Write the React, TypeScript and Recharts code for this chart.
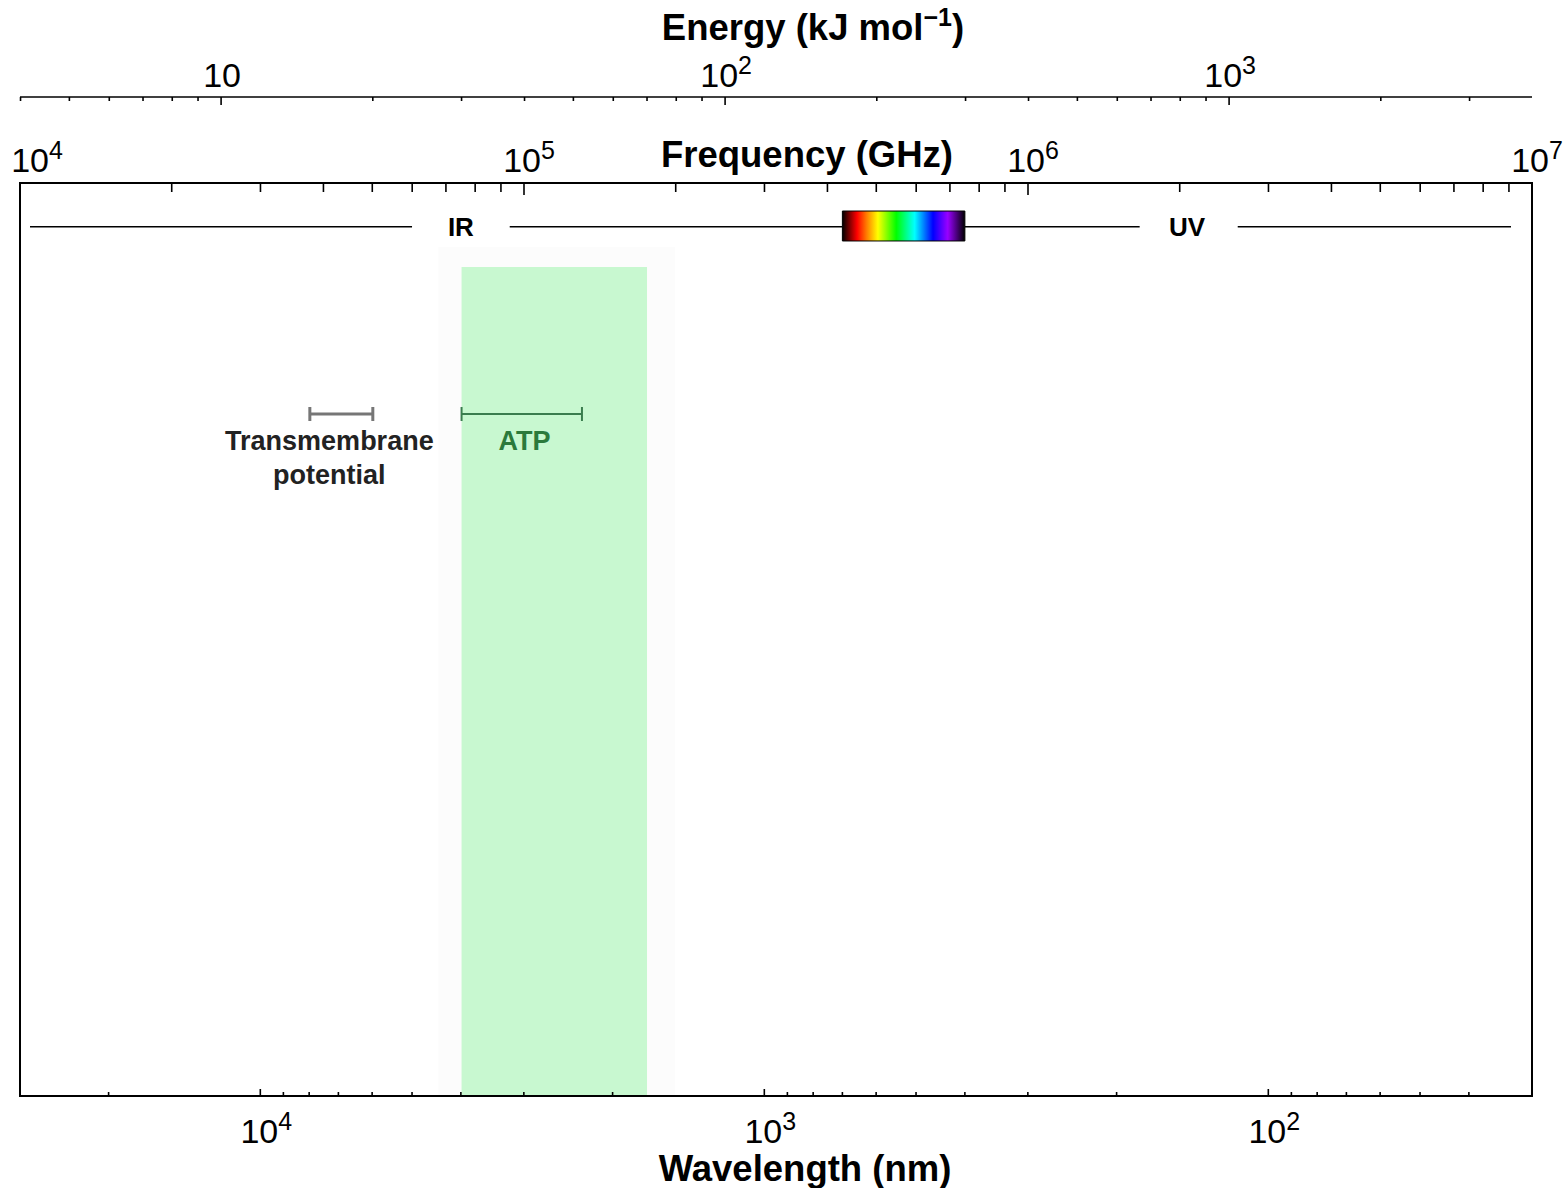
import { ComposedChart, XAxis, YAxis, Scatter, ErrorBar, ReferenceArea, ReferenceLine } from "recharts";

const FONT = "'Liberation Sans', Arial, Helvetica, sans-serif";

// the plot spans 10^4 .. 10^7 GHz; same span in kJ/mol and nm
const freqDomain = [1e4, 1e7];
const energyDomain = [3.9903, 3990.3];
const wavelengthDomain = [29.979, 29979.2];

const freqTicks = [
    1e4, 2e4, 3e4, 4e4, 5e4, 6e4, 7e4, 8e4, 9e4,
    1e5, 2e5, 3e5, 4e5, 5e5, 6e5, 7e5, 8e5, 9e5,
    1e6, 2e6, 3e6, 4e6, 5e6, 6e6, 7e6, 8e6, 9e6,
    1e7,
];
const freqMajor = [1e4, 1e5, 1e6, 1e7];

const energyTicks = [
    4, 5, 6, 7, 8, 9,
    10, 20, 30, 40, 50, 60, 70, 80, 90,
    100, 200, 300, 400, 500, 600, 700, 800, 900,
    1000, 2000, 3000,
];
const energyMajor = [10, 100, 1000];

const wavelengthTicks = [
    20000,
    10000, 9000, 8000, 7000, 6000, 5000, 4000, 3000, 2000,
    1000, 900, 800, 700, 600, 500, 400, 300, 200,
    100, 90, 80, 70, 60, 50, 40,
];
const wavelengthMajor = [1e4, 1e3, 1e2];

// spectrum bar (nm)
const spectrumSegments = [
    [28640, 5000],
    [3200, 700],
    [400, 180],
    [115, 33],
];
const visibleRange = [700, 400];
const regionLabels = [
    { wl: 4000, y: 0.952, text: "IR" },
    { wl: 145, y: 0.952, text: "UV" },
];

// energies (kJ/mol)
const atpBand = [30, 70];
const energyRanges = [
    { name: "Transmembrane potential", lo: 15, hi: 20 },
    { name: "ATP", lo: 30, hi: 52 },
];
const rangeLabels = [
    { e: 16.4, y: 0.7075, lines: ["Transmembrane", "potential"] },
    { e: 40, y: 0.7075, lines: ["ATP"] },
];

const rangeColors: Record<string, string> = {
    "Transmembrane potential": "#767676",
    ATP: "#3a7d4e",
};
const labelColors: Record<string, string> = {
    Transmembrane: "#222222",
    ATP: "#2b7a3b",
};

type TickCfg = { majors: number[]; dir: number; minor: number; major: number; labelY: number; dx: number; firstDx?: number };

const AxisTick = ({ x, y, payload, cfg }: any) => {
    const v = payload.value;
    const isMajor = cfg.majors.some((m: number) => Math.abs(m - v) / m < 1e-6);
    const len = isMajor ? cfg.major : cfg.minor;
    const exp = Math.round(Math.log10(v));
    const dx = cfg.firstDx !== undefined && v === cfg.majors[0] ? cfg.firstDx : cfg.dx;
    return (
        <g>
            <line x1={x} y1={y} x2={x} y2={y + cfg.dir * len} stroke="#000" strokeWidth={1.6} />
            {isMajor && (
                <text x={x + dx} y={y + cfg.labelY} textAnchor="middle" fontFamily={FONT} fontSize={34} fill="#000">
                    <tspan>10</tspan>
                    {exp !== 1 && <tspan fontSize={25} dy={-13}>{exp}</tspan>}
                </text>
            )}
        </g>
    );
};

const energyCfg: TickCfg = { majors: energyMajor, dir: 1, minor: 4, major: 8, labelY: -10, dx: 1 };
const freqCfg: TickCfg = { majors: freqMajor, dir: 1, minor: 9, major: 12, labelY: -11, dx: 5, firstDx: 17 };
const wlCfg: TickCfg = { majors: wavelengthMajor, dir: -1, minor: 4, major: 7, labelY: 47, dx: 6 };

const title = (content: React.ReactNode, dx: number, dy: number) => (props: any) => {
    const vb = props.viewBox;
    return (
        <text x={vb.x + vb.width / 2 + dx} y={vb.y + dy} textAnchor="middle" fontFamily={FONT} fontWeight="bold" fontSize={36.5} fill="#000">
            {content}
        </text>
    );
};

export default function App() {
    const errData = energyRanges.map(r => ({
        name: r.name,
        e: (r.lo + r.hi) / 2,
        y: 0.747,
        err: [(r.hi - r.lo) / 2, (r.hi - r.lo) / 2],
    }));

    return (
        <div style={{ position: "absolute", left: 0, top: 0, background: "#fff" }}>
            <ComposedChart width={1566} height={1188} margin={{ top: 10, right: 34, bottom: 0, left: 20 }}>
                <defs>
                    <linearGradient id="rainbow" x1="0" y1="0" x2="1" y2="0">
                        <stop offset="0%" stopColor="#000000" />
                        <stop offset="12%" stopColor="#ff0000" />
                        <stop offset="20%" stopColor="#ff8000" />
                        <stop offset="29%" stopColor="#ffff00" />
                        <stop offset="44%" stopColor="#00ff00" />
                        <stop offset="59%" stopColor="#00ffff" />
                        <stop offset="74%" stopColor="#0000ff" />
                        <stop offset="86%" stopColor="#9900ff" />
                        <stop offset="100%" stopColor="#000000" />
                    </linearGradient>
                </defs>

                {/* frequency axis sits against the plot, energy axis above it */}
                <XAxis
                    xAxisId="f"
                    dataKey="f"
                    orientation="top"
                    type="number"
                    scale="log"
                    domain={freqDomain}
                    allowDataOverflow
                    ticks={freqTicks}
                    interval={0}
                    height={86}
                    tickSize={0}
                    tickMargin={0}
                    tickLine={false}
                    axisLine={{ stroke: "#000", strokeWidth: 2 }}
                    tick={(p: any) => <AxisTick {...p} cfg={freqCfg} />}
                    label={{ content: title("Frequency (GHz)", 31, 70) }}
                />
                <XAxis
                    xAxisId="kj"
                    dataKey="e"
                    orientation="top"
                    type="number"
                    scale="log"
                    domain={energyDomain}
                    allowDataOverflow
                    ticks={energyTicks}
                    interval={0}
                    height={87}
                    tickSize={0}
                    tickMargin={0}
                    tickLine={false}
                    axisLine={{ stroke: "#000", strokeWidth: 1.6 }}
                    tick={(p: any) => <AxisTick {...p} cfg={energyCfg} />}
                    label={{
                        content: title(
                            <>
                                Energy (kJ mol<tspan fontSize={25} dy={-14}>−1</tspan>
                                <tspan dy={14}>)</tspan>
                            </>,
                            37,
                            30
                        ),
                    }}
                />
                <XAxis
                    xAxisId="wl"
                    dataKey="wl"
                    orientation="bottom"
                    type="number"
                    scale="log"
                    reversed
                    domain={wavelengthDomain}
                    allowDataOverflow
                    ticks={wavelengthTicks}
                    interval={0}
                    height={92}
                    tickSize={0}
                    tickMargin={0}
                    tickLine={false}
                    axisLine={{ stroke: "#000", strokeWidth: 2 }}
                    tick={(p: any) => <AxisTick {...p} cfg={wlCfg} />}
                    label={{ content: title("Wavelength (nm)", 29, 85) }}
                />
                <YAxis yAxisId="y" dataKey="y" type="number" domain={[0, 1]} allowDataOverflow hide />

                <ReferenceArea xAxisId="kj" yAxisId="y" x1={27} x2={79.5} y1={0} y2={0.93} fill="#fcfcfc" fillOpacity={1} stroke="none" />
                <ReferenceArea xAxisId="kj" yAxisId="y" x1={atpBand[0]} x2={atpBand[1]} y1={0} y2={0.908} fill="#c8f8d0" fillOpacity={1} stroke="none" />

                {/* plot frame */}
                <ReferenceArea
                    xAxisId="kj"
                    yAxisId="y"
                    x1={energyDomain[0]}
                    x2={energyDomain[1]}
                    y1={0}
                    y2={1}
                    fill="none"
                    stroke="#000"
                    strokeWidth={2}
                />

                {spectrumSegments.map(([a, b], i) => (
                    <ReferenceLine
                        key={i}
                        xAxisId="wl"
                        yAxisId="y"
                        segment={[{ x: a, y: 0.952 }, { x: b, y: 0.952 }]}
                        stroke="#000"
                        strokeWidth={1.5}
                    />
                ))}
                <ReferenceArea
                    xAxisId="wl"
                    yAxisId="y"
                    x1={visibleRange[0]}
                    x2={visibleRange[1]}
                    y1={0.9365}
                    y2={0.9693}
                    fill="url(#rainbow)"
                    fillOpacity={1}
                    stroke="#000"
                    strokeWidth={1}
                />
                <Scatter
                    xAxisId="wl"
                    yAxisId="y"
                    data={regionLabels}
                    isAnimationActive={false}
                    shape={(p: any) => (
                        <text x={p.cx} y={p.cy} dy={9} textAnchor="middle" fontFamily={FONT} fontWeight="bold" fontSize={26} fill="#000">
                            {p.payload.text}
                        </text>
                    )}
                />

                {errData.map(d => (
                    <Scatter key={d.name} xAxisId="kj" yAxisId="y" data={[d]} isAnimationActive={false} shape={() => <g />}>
                        <ErrorBar dataKey="err" direction="x" width={7} stroke={rangeColors[d.name]} strokeWidth={d.name === "ATP" ? 2 : 3} />
                    </Scatter>
                ))}
                <Scatter
                    xAxisId="kj"
                    yAxisId="y"
                    data={rangeLabels}
                    isAnimationActive={false}
                    shape={(p: any) => (
                        <text x={p.cx} y={p.cy} textAnchor="middle" fontFamily={FONT} fontWeight="bold" fontSize={27} fill={labelColors[p.payload.lines[0]]}>
                            {p.payload.lines.map((l: string, i: number) => (
                                <tspan key={i} x={p.cx} dy={i === 0 ? 0 : 34}>
                                    {l}
                                </tspan>
                            ))}
                        </text>
                    )}
                />
            </ComposedChart>
        </div>
    );
}
